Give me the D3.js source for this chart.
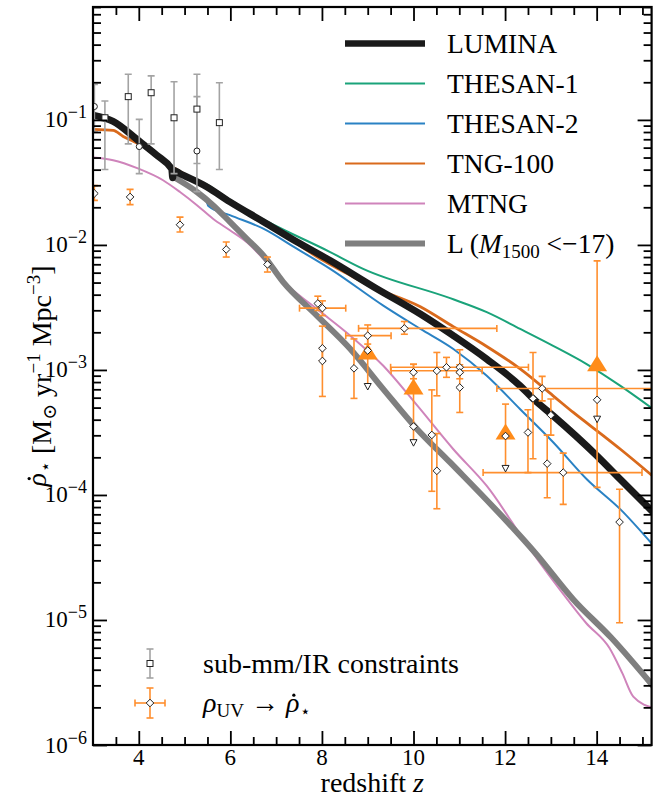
<!DOCTYPE html>
<html>
<head>
<meta charset="utf-8">
<script src="https://cdn.jsdelivr.net/npm/d3@7"></script>
<style>
  body { margin: 0; background: #fff; }
  text { font-family: "Liberation Serif", "DejaVu Serif", serif; fill: #000; }
</style>
</head>
<body>
<svg width="653" height="798"></svg>
<script>
(function () {

  // ---- model curves: [z, SFRD] ----
  var lumina = [[3.00,0.109],[3.44,0.0973],[3.98,0.0689],[4.39,0.0523],[4.70,0.0415],[4.72,0.0405],
    [4.74,0.0345],[4.76,0.0395],[4.90,0.0372],[5.49,0.0291],[5.99,0.0221],[6.72,0.01535],[7.45,0.0106],
    [8.18,0.0075],[9.16,0.00455],[10.15,0.0028],[10.87,0.00188],[11.60,0.00122],[12.33,7.46e-4],
    [12.62,5.85e-4],[13.05,4.30e-4],[14.01,2.05e-4],[14.52,1.33e-4],[15.24,7.24e-5]]

  var thesan1 = [[5.49,0.0305],[6.36,0.0189],[8.18,8.77e-3],[8.90,6.44e-3],[10.80,3.75e-3],[11.60,2.90e-3],
    [12.33,2.13e-3],[13.05,1.56e-3],[13.79,1.11e-3],[14.52,7.46e-4],[15.24,4.85e-4]]

  var thesan2 = [[5.48,0.0225],[5.52,0.0205],[5.99,0.0173],[6.72,0.0135],[7.45,9.33e-3],[8.18,6.44e-3],
    [9.34,3.27e-3],[10.15,2.13e-3],[10.87,1.47e-3],[11.60,8.98e-4],[12.33,4.85e-4],[13.05,2.64e-4],
    [13.79,1.33e-4],[14.52,7.67e-5],[15.24,3.94e-5]]

  var tng100 = [[3.00,0.084],[3.44,0.0824],[3.66,0.0738],[3.98,0.0647],[4.31,0.0558],[4.68,0.0434],
    [5.5,0.0294],[6.0,0.0222],[7.0,0.0132],[8.0,0.0076],[8.55,5.9e-3],[9.0,4.8e-3],[10.15,3.2e-3],
    [10.87,2.22e-3],[11.60,1.54e-3],[12.33,1.02e-3],[13.05,6.21e-4],[13.49,4.57e-4],[14.15,2.97e-4],
    [14.52,2.32e-4],[15.24,1.40e-4]]

  var mtng = [[3.00,0.0500],[3.44,0.0476],[3.98,0.0409],[4.53,0.0329],[4.90,0.0265],[5.27,0.0208],
    [5.62,0.0162],[5.99,0.0131],[6.36,0.0105],[6.72,7.74e-3],[7.09,5.36e-3],[7.89,3.08e-3],[8.62,1.88e-3],
    [9.34,1.08e-3],[10.08,5.2e-4],[10.87,2.32e-4],[11.60,1.18e-4],[12.55,3.66e-5],[13.36,1.46e-5],
    [13.77,9.46e-6],[14.28,5.96e-6],[14.56,3.76e-6],[14.80,2.44e-6],[15.26,1.97e-6]]

  var luminaBright = [[4.75,0.0351],[5.27,0.0265],[5.62,0.0208],[5.99,0.0153],[6.36,0.0112],[6.72,8.24e-3],
    [7.15,5.07e-3],[7.89,2.72e-3],[8.62,1.47e-3],[9.34,7.03e-4],[10.08,3.36e-4],[10.80,1.82e-4],
    [12.70,3.3e-5],[13.49,1.46e-5],[14.32,7.2e-6],[15.24,2.94e-6]]

  // ---- observations ----
  // sub-mm / IR: [z, rho, lo, hi]
  var submmSquares = [[3.26,0.104,0.0401,0.1416],[3.77,0.1535,0.0643,0.232],[4.27,0.165,0.0643,0.225],
    [4.77,0.104,0.0372,0.202],[5.27,0.122,0.0448,0.232],[5.76,0.0951,0.0401,0.198]]
  var submmCircles = [[3.03,0.128,0.08,0.192],[4.01,0.0612,0.0372,0.101],[5.27,0.0564,0.0267,0.1535]]

  // rho_UV -> SFRD: [z, rho, lo, hi, zlo, zhi]
  var uvPoints = [
    [3.03,0.0258,0.0227,0.0298],[3.81,0.0242,0.0210,0.0278],[4.90,0.0145,0.0127,0.0167],
    [5.91,0.0092,0.0080,0.01054],[6.81,0.00698,0.00607,0.0080],[7.91,3.40e-3,2.99e-3,3.89e-3],
    [8.01,3.12e-3,2.72e-3,3.57e-3,7.51,8.52],[8.01,1.49e-3,1.18e-3,2.24e-3],[8.01,1.18e-3,6.14e-4,1.49e-3],
    [8.70,1.03e-3,5.92e-4,1.77e-3],[9.00,1.88e-3,1.61e-3,2.29e-3,8.52,9.51],
    [9.80,2.15e-3,1.93e-3,2.44e-3,8.80,11.82],[10.00,9.57e-4,8.5e-4,1.11e-3],
    [10.40,3.02e-4,1.07e-4,6.93e-4],[10.51,9.84e-4,6.21e-4,1.38e-3,9.51,11.50],
    [10.51,1.56e-4,7.76e-5,3.10e-4],[10.72,1.05e-3,8.73e-4,1.26e-3],
    [11.01,1.05e-3,9.5e-4,1.45e-3,9.50,12.51],[11.01,9.57e-4,8.5e-4,1.1e-3],[11.01,7.24e-4,4.57e-4,9.5e-4],
    [12.50,3.16e-4,1.51e-4,4.80e-4],[12.61,5.92e-4,1.95e-4,1.38e-3],[12.81,7.11e-4,5.66e-4,8.89e-4,11.82,16],
    [13.00,4.35e-4,3.01e-4,5.85e-4],[12.92,1.78e-4,9.51e-5,3.01e-4],[13.27,1.51e-4,8.41e-5,2.16e-4,11.52,14.99],
    [14.50,6.07e-5,9.5e-6,1.11e-4]
  ]
  // limits: [z, triangle, top, bottom, diamond, upper-limit marker]
  var limits = [
    [9.00,1.38e-3,1.88e-3,7.37e-4,1.43e-3,7.37e-4],
    [10.00,7.24e-4,1.11e-3,2.62e-4,3.53e-4,2.62e-4],
    [12.01,3.16e-4,5.33e-4,1.63e-4,2.96e-4,1.63e-4],
    [14.01,1.11e-3,7.46e-3,1.15e-4,5.77e-4,4.04e-4]
  ]

  var xMajor = [4,6,8,10,12,14]
  var yExps = [-6,-5,-4,-3,-2,-1]

  // ---- setup ----
  var svg = d3.select('svg')
  var left = 93, right = 651.6, top = 7, bottom = 745
  var x = d3.scaleLinear().domain([3, 15.2]).range([left, right])
  var y = d3.scaleLog().domain([1e-6, 0.8]).range([bottom, top])

  svg.append('defs').append('clipPath').attr('id', 'clip')
    .append('rect').attr('x', left).attr('y', top).attr('width', right - left).attr('height', bottom - top)

  var plot = svg.append('g').attr('clip-path', 'url(#clip)')

  var line = d3.line().x(d => x(d[0])).y(d => y(d[1])).curve(d3.curveMonotoneX)

  var curves = [
    { data: thesan1, color: '#1aa37a', width: 2, key: 2 },
    { data: thesan2, color: '#2a82c4', width: 2, key: 2 },
    { data: tng100, color: '#d96a1c', width: 2.8, key: 2 },
    { data: mtng, color: '#cf84bb', width: 2, key: 2 },
    { data: luminaBright, color: '#7f7f7f', width: 6, key: 6 },
    { data: lumina, color: '#1a1a1a', width: 7, key: 6.5 }
  ]
  curves.forEach(function (c) {
    plot.append('path').attr('d', line(c.data)).attr('fill', 'none')
      .attr('stroke', c.color).attr('stroke-width', c.width)
      .attr('stroke-linejoin', 'round')
  })

  var orange = '#ff8f2e', grey = '#a3a3a3'

  function vbar (g, cx, y1, y2, col, cap) {
    g.append('line').attr('x1', cx).attr('x2', cx).attr('y1', y1).attr('y2', y2)
      .attr('stroke', col).attr('stroke-width', 1.6)
    if (cap) {
      [y1, y2].forEach(function (yy) {
        g.append('line').attr('x1', cx - 3.5).attr('x2', cx + 3.5).attr('y1', yy).attr('y2', yy)
          .attr('stroke', col).attr('stroke-width', 1.6)
      })
    }
  }
  function hbar (g, cy, x1, x2, col) {
    g.append('line').attr('x1', x1).attr('x2', x2).attr('y1', cy).attr('y2', cy)
      .attr('stroke', col).attr('stroke-width', 1.6)
    ;[x1, x2].forEach(function (xx) {
      g.append('line').attr('x1', xx).attr('x2', xx).attr('y1', cy - 3.5).attr('y2', cy + 3.5)
        .attr('stroke', col).attr('stroke-width', 1.6)
    })
  }
  function diamond (g, cx, cy) {
    var r = 3.8
    g.append('path').attr('d', 'M' + cx + ',' + (cy - r) + 'L' + (cx + r) + ',' + cy + 'L' + cx + ',' + (cy + r) + 'L' + (cx - r) + ',' + cy + 'Z')
      .attr('fill', '#fff').attr('stroke', '#222').attr('stroke-width', 1)
  }
  function square (g, cx, cy) {
    g.append('rect').attr('x', cx - 3).attr('y', cy - 3).attr('width', 6).attr('height', 6)
      .attr('fill', '#fff').attr('stroke', '#222').attr('stroke-width', 1)
  }

  // sub-mm
  var gS = plot.append('g')
  submmSquares.concat(submmCircles).forEach(function (d) {
    vbar(gS, x(d[0]), y(d[3]), y(d[2]), grey, true)
  })
  submmSquares.forEach(function (d) { square(gS, x(d[0]), y(d[1])) })
  submmCircles.forEach(function (d) {
    gS.append('circle').attr('cx', x(d[0])).attr('cy', y(d[1])).attr('r', 3)
      .attr('fill', '#fff').attr('stroke', '#222').attr('stroke-width', 1)
  })

  // UV
  var gU = plot.append('g')
  uvPoints.forEach(function (d) {
    vbar(gU, x(d[0]), y(d[3]), y(d[2]), orange, true)
    if (d.length > 4) hbar(gU, y(d[1]), x(d[4]), x(d[5]), orange)
  })
  limits.forEach(function (d) {
    var cx = x(d[0])
    gU.append('line').attr('x1', cx).attr('x2', cx).attr('y1', y(d[2])).attr('y2', y(d[3]))
      .attr('stroke', orange).attr('stroke-width', 1.6)
    gU.append('line').attr('x1', cx - 3.5).attr('x2', cx + 3.5).attr('y1', y(d[2])).attr('y2', y(d[2]))
      .attr('stroke', orange).attr('stroke-width', 1.6)
    if (d[3] < d[5]) {
      gU.append('line').attr('x1', cx - 3.5).attr('x2', cx + 3.5).attr('y1', y(d[3])).attr('y2', y(d[3]))
        .attr('stroke', orange).attr('stroke-width', 1.6)
    }
    var ty = y(d[1])
    gU.append('path').attr('d', 'M' + cx + ',' + (ty - 9) + 'L' + (cx + 10) + ',' + (ty + 7) + 'L' + (cx - 10) + ',' + (ty + 7) + 'Z')
      .attr('fill', '#ff8c1a')
  })
  uvPoints.forEach(function (d) { diamond(gU, x(d[0]), y(d[1])) })
  limits.forEach(function (d) {
    diamond(gU, x(d[0]), y(d[4]))
    var cx = x(d[0]), ly = y(d[5])
    gU.append('path').attr('d', 'M' + (cx - 3.5) + ',' + (ly - 3) + 'L' + (cx + 3.5) + ',' + (ly - 3) + 'L' + cx + ',' + (ly + 3.5) + 'Z')
      .attr('fill', '#fff').attr('stroke', '#222').attr('stroke-width', 1)
  })

  // ---- axes (inward ticks on all four sides) ----
  var xMinor = d3.range(3.5, 15.01, 0.5).filter(v => xMajor.indexOf(v) < 0)
  var yMajor = yExps.map(e => Math.pow(10, e))
  var yMinor = []
  yExps.forEach(function (e) {
    for (var k = 2; k <= 9; k++) { var v = k * Math.pow(10, e); if (v <= 0.8) yMinor.push(v) }
  })

  function addAxis (axis, tx, ty) {
    var g = svg.append('g').attr('transform', 'translate(' + tx + ',' + ty + ')').call(axis)
    g.select('.domain').remove()
    g.selectAll('.tick line').attr('stroke', '#000').attr('stroke-width', 1.8)
    g.selectAll('.tick text').remove()
  }
  addAxis(d3.axisBottom(x).tickValues(xMajor).tickSize(-14), 0, bottom)
  addAxis(d3.axisBottom(x).tickValues(xMinor).tickSize(-8), 0, bottom)
  addAxis(d3.axisTop(x).tickValues(xMajor).tickSize(-14), 0, top)
  addAxis(d3.axisTop(x).tickValues(xMinor).tickSize(-8), 0, top)
  addAxis(d3.axisLeft(y).tickValues(yMajor).tickSize(-14), left, 0)
  addAxis(d3.axisLeft(y).tickValues(yMinor).tickSize(-8), left, 0)
  addAxis(d3.axisRight(y).tickValues(yMajor).tickSize(-14), right, 0)
  addAxis(d3.axisRight(y).tickValues(yMinor).tickSize(-8), right, 0)

  svg.append('rect').attr('x', left).attr('y', top).attr('width', right - left).attr('height', bottom - top)
    .attr('fill', 'none').attr('stroke', '#000').attr('stroke-width', 2.2)

  // tick labels
  xMajor.forEach(function (v) {
    svg.append('text').attr('x', x(v)).attr('y', 765).attr('text-anchor', 'middle')
      .attr('font-size', 23).text(v)
  })
  yExps.forEach(function (e) {
    var t = svg.append('text').attr('x', 87).attr('y', y(Math.pow(10, e)) + 7.5)
      .attr('text-anchor', 'end').attr('font-size', 23)
    t.append('tspan').text('10')
    t.append('tspan').attr('dy', -9).attr('font-size', 18).text('\u2212' + (-e))
  })

  // italic rho with a star subscript; its dot is drawn afterwards as a small circle
  function rhoStar (t, size) {
    var r = t.append('tspan').attr('font-style', 'italic').text('\u03C1')
    t.append('tspan').attr('dx', 1).attr('dy', 0.18 * size).attr('font-size', 0.62 * size).text('\u22C6')
    t.append('tspan').attr('dy', -0.18 * size).text('')
    return r
  }
  function addDot (g, tspan, size) {
    var b = tspan.node().getBBox()
    g.append('circle').attr('cx', b.x + b.width * 0.62).attr('cy', b.y + b.height - 0.216 * size - 0.6 * size)
      .attr('r', size * 0.058).attr('fill', '#000')
  }

  // axis titles
  svg.append('text').attr('x', (left + right) / 2).attr('y', 792).attr('text-anchor', 'middle')
    .attr('font-size', 28)
    .call(function (t) {
      t.append('tspan').text('redshift ')
      t.append('tspan').attr('font-style', 'italic').text('z')
    })

  var ylG = svg.append('g').attr('transform', 'translate(46,' + ((top + bottom) / 2) + ') rotate(-90)')
  var yl = ylG.append('text').attr('text-anchor', 'middle').attr('font-size', 28)
  var yRho = rhoStar(yl, 28)
  yl.append('tspan').text(' [M')
  yl.append('tspan').attr('dy', 5).attr('font-size', 19).text('\u2299')
  yl.append('tspan').attr('dy', -5).text(' yr')
  yl.append('tspan').attr('dy', -11).attr('font-size', 19).text('\u22121')
  yl.append('tspan').attr('dy', 11).text(' Mpc')
  yl.append('tspan').attr('dy', -11).attr('font-size', 19).text('\u22123')
  yl.append('tspan').attr('dy', 11).text(']')
  addDot(ylG, yRho, 28)

  // ---- legend (models) ----
  var legendNames = ['LUMINA', 'THESAN-1', 'THESAN-2', 'TNG-100', 'MTNG']
  var legendStyles = [curves[5], curves[0], curves[1], curves[2], curves[3], curves[4]]
  legendStyles.forEach(function (c, i) {
    var ly = 43.5 + i * 40
    svg.append('line').attr('x1', 345).attr('x2', 425).attr('y1', ly).attr('y2', ly)
      .attr('stroke', c.color).attr('stroke-width', c.key)
    var t = svg.append('text').attr('x', 447).attr('y', ly + 9).attr('font-size', 27.5)
    if (i < 5) t.text(legendNames[i])
    else {
      t.append('tspan').text('L (')
      t.append('tspan').attr('font-style', 'italic').text('M')
      t.append('tspan').attr('dy', 5).attr('font-size', 19).text('1500')
      t.append('tspan').attr('dy', -5).text(' <\u221217)')
    }
  })

  // ---- legend (observations) ----
  var gL = svg.append('g')
  vbar(gL, 150, 649, 678, grey, true)
  square(gL, 150, 663.5)
  svg.append('text').attr('x', 203).attr('y', 672.5).attr('font-size', 28).text('sub-mm/IR constraints')
  vbar(gL, 150, 688, 718, orange, true)
  hbar(gL, 703, 135, 165, orange)
  diamond(gL, 150, 703)
  var t2 = svg.append('text').attr('x', 203).attr('y', 712).attr('font-size', 28)
  t2.append('tspan').attr('font-style', 'italic').text('\u03C1')
  t2.append('tspan').attr('dy', 5).attr('font-size', 19).text('UV')
  t2.append('tspan').attr('dy', -5).text(' \u2192 ')
  var lRho = rhoStar(t2, 28)
  addDot(svg, lRho, 28)

})()
</script>
</body>
</html>
